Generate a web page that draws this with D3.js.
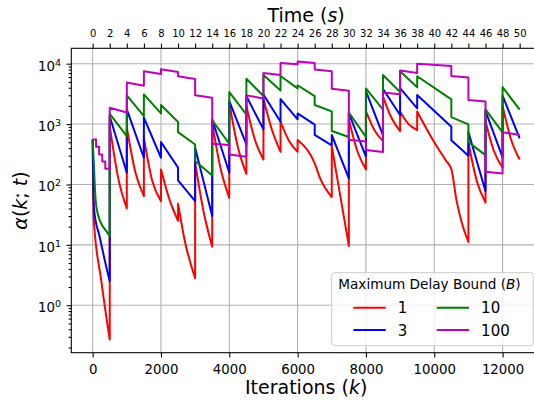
<!DOCTYPE html>
<html>
<head>
<meta charset="utf-8">
<script src="https://cdn.jsdelivr.net/npm/d3@7"></script>
<style>
  body { margin: 0; background: #fff; }
  text { font-family: "DejaVu Sans", sans-serif; fill: #000; }
</style>
</head>
<body>
<svg id="CHART" width="534" height="400"></svg>
<script>
// values: [iteration k, alpha]
var alphaB1 = [
  [0,557],[25,30],[250,2.6],[500,0.27],
  [500,927],[750,126],[1000,40],
  [1000,880],[1250,160],[1500,64],
  [1500,593],[1750,112],[2000,53],
  [2000,177],[2250,56],[2500,25],
  [2500,48],[2700,11.5],[3000,2.8],
  [3000,229],[3250,35],[3500,9.3],
  [3500,1040],[3750,178],[4000,60],
  [4000,2260],[4250,417],[4500,150],
  [4500,1990],[4750,550],[5000,259],
  [5000,2600],[5250,800],[5500,348],
  [5500,1094],[5750,525],[6000,348],
  [6000,546],[6500,223],[6650,130],[7000,62],
  [7000,431],[7500,9.6],
  [7500,1194],[7750,355],[8000,177],
  [8000,1640],[8250,794],[8500,523],
  [8500,2860],[8750,1260],[9000,764],
  [9000,1600],[9250,1000],[9500,795],
  [9500,1620],[10000,500],[10350,245],[10500,180],[10650,55],[10800,24],[11000,11.2],
  [11000,491],[11250,112],[11500,50],
  [11500,1120],[11750,355],[12000,189],
  [12000,1990],[12250,550],[12500,259]
];

var alphaB3 = [
  [0,557],[20,80],[50,35],[200,14],[350,5.7],[500,2.5],
  [500,1350],[1000,156],
  [1000,1750],[1500,277],
  [1500,1274],[2000,277],
  [2000,504],[2500,190],
  [2500,117],[3000,53],
  [3000,405],[3500,30],
  [3500,1194],[4000,156],
  [4000,2400],[4500,460],
  [4500,2910],[5000,817],
  [5000,3100],[5500,1094],
  [5500,2600],[6000,1200],
  [6000,1500],[6500,980],
  [6500,660],[7000,445],
  [7000,660],[7500,126],
  [7500,1500],[8000,290],
  [8000,3500],[8500,650],
  [8500,3800],[9000,1410],
  [9000,3930],[9500,1820],
  [9500,3040],[10500,900],
  [10500,541],[11000,300],
  [11000,740],[11500,77],
  [11500,1650],[12000,280],
  [12000,2950],[12500,578]
];

var alphaB10 = [
  [0,557],[30,250],[90,53],[167,30],[265,21.7],[363,18],[500,14],
  [500,1480],[1000,630],
  [1000,2990],[1500,1360],
  [1500,3100],[2000,1500],
  [2000,2070],[2500,1080],
  [2500,736],[3000,460],
  [3000,244],[3500,141],
  [3500,1150],[4000,472],
  [4000,3390],[4500,1445],
  [4500,5640],[5000,2910],
  [5000,6490],[5500,3600],
  [5500,6250],[6000,3900],
  [6000,4400],[6500,2900],
  [6500,2070],[7000,1620],
  [7000,770],[7500,610],
  [7500,1550],[8000,615],
  [8000,3900],[8500,1730],
  [8500,6500],[9000,3400],
  [9000,7500],[9500,4080],
  [9500,6200],[10500,2570],
  [10500,1306],[11000,986],
  [11000,503],[11500,306],
  [11500,1750],[12000,730],
  [12000,4100],[12500,1730]
];

var alphaB100 = [
  [0,557],[100,557],[100,421],[190,421],[190,314],[280,314],[280,240],[370,240],[370,182],[500,182],
  [500,1860],[1000,1560],
  [1000,4900],[1500,4300],
  [1500,7500],[2000,6750],
  [2000,8100],[2500,7300],
  [2500,6200],[3000,5600],
  [3000,2990],[3500,2730],
  [3500,472],[4000,449],
  [4000,314],[4500,288],
  [4500,2990],[5000,2660],
  [5000,7000],[5500,6500],
  [5500,10300],[6000,9800],
  [6000,10900],[6500,10250],
  [6500,8000],[7000,7500],
  [7000,3850],[7500,3550],
  [7500,550],[8000,515],
  [8000,371],[8500,345],
  [8500,3330],[9000,3130],
  [9000,7700],[9500,7000],
  [9500,10000],[10500,9200],
  [10500,6250],[11000,5900],
  [11000,2500],[11500,2370],
  [11500,162],[12000,152],
  [12000,736],[12500,660]
];

var delayBounds = ["1", "3", "10", "100"];
var seriesData = [alphaB1, alphaB3, alphaB10, alphaB100];
var colors = ["#ff0000", "#0000ff", "#008000", "#bf00bf"];

var iterTicks = [0, 2000, 4000, 6000, 8000, 10000, 12000];
var timeTicks = [0,2,4,6,8,10,12,14,16,18,20,22,24,26,28,30,32,34,36,38,40,42,44,46,48,50];
var decadeTicks = [1, 10, 100, 1000, 10000];
var itersPerSecond = 250;

// plot box
var LEFT = 71.3, RIGHT = 541, TOP = 48.3, BOTTOM = 352.7;

var x = d3.scaleLinear()
  .domain([-625, 13125])
  .range([LEFT, RIGHT]);

var xTime = d3.scaleLinear()
  .domain([-625 / itersPerSecond, 13125 / itersPerSecond])
  .range([LEFT, RIGHT]);

var y = d3.scaleLog()
  .domain([Math.pow(10, -0.786), Math.pow(10, 4.255)])
  .range([BOTTOM, TOP]);

var svg = d3.select("#CHART");

svg.append("defs").append("clipPath")
  .attr("id", "plotClip")
  .append("rect")
  .attr("x", LEFT).attr("y", TOP)
  .attr("width", RIGHT - LEFT).attr("height", BOTTOM - TOP);

// grid
var grid = svg.append("g").attr("stroke", "#b0b0b0").attr("stroke-width", 1.07);
grid.selectAll(".vg")
  .data(iterTicks)
  .enter().append("line")
  .attr("x1", function(d) { return x(d); })
  .attr("x2", function(d) { return x(d); })
  .attr("y1", TOP).attr("y2", BOTTOM);
grid.selectAll(".hg")
  .data(decadeTicks)
  .enter().append("line")
  .attr("y1", function(d) { return y(d); })
  .attr("y2", function(d) { return y(d); })
  .attr("x1", LEFT).attr("x2", RIGHT);

// draw lines: smooth decay between resets, straight jumps at resets
var line = d3.line()
  .x(function(d) { return x(d[0]); })
  .y(function(d) { return y(d[1]); })
  .curve(d3.curveMonotoneX);

function splitRuns(pts) {
  var out = [], cur = [pts[0]];
  for (var i = 1; i < pts.length; i++) {
    if (pts[i][0] === pts[i - 1][0]) { out.push(cur); cur = [pts[i]]; }
    else cur.push(pts[i]);
  }
  out.push(cur);
  return out;
}

function seriesPath(pts) {
  return splitRuns(pts).map(function(run, i) {
    var s = line(run);
    return i ? "L" + s.slice(1) : s;
  }).join("");
}

svg.append("g")
  .attr("clip-path", "url(#plotClip)")
  .selectAll("path")
  .data(seriesData)
  .enter().append("path")
  .attr("d", function(d) { return seriesPath(d); })
  .attr("fill", "none")
  .attr("stroke", function(d, i) { return colors[i]; })
  .attr("stroke-width", 2)
  .attr("stroke-linejoin", "round");

// bottom axis
var xAxis = d3.axisBottom(x)
  .tickValues(iterTicks)
  .tickFormat(d3.format("d"))
  .tickSize(4.7)
  .tickPadding(6.9)
  .tickSizeOuter(0);
var gx = svg.append("g")
  .attr("transform", "translate(0," + BOTTOM + ")")
  .call(xAxis);
gx.selectAll("text").style("font-size", "13.3px").style("font-family", "DejaVu Sans");

// top axis in seconds
var tAxis = d3.axisTop(xTime)
  .tickValues(timeTicks)
  .tickFormat(d3.format("d"))
  .tickSize(4.7)
  .tickPadding(6.9)
  .tickSizeOuter(0);
var gt = svg.append("g")
  .attr("transform", "translate(0," + TOP + ")")
  .call(tAxis);
gt.selectAll("text").style("font-size", "10px").style("font-family", "DejaVu Sans");

// left axis, minor ticks then decades
var minorTicks = y.ticks().filter(function(d) {
  return Math.abs(Math.log10(d) - Math.round(Math.log10(d))) > 1e-6;
});
svg.append("g")
  .attr("transform", "translate(" + LEFT + ",0)")
  .call(d3.axisLeft(y).tickValues(minorTicks).tickSize(2.7).tickFormat("").tickSizeOuter(0));

var gy = svg.append("g")
  .attr("transform", "translate(" + LEFT + ",0)")
  .call(d3.axisLeft(y).tickValues(decadeTicks).tickSize(4.7).tickPadding(5.6).tickSizeOuter(0));
gy.selectAll("text")
  .text(null)
  .attr("dy", null)
  .attr("y", 6.3)
  .style("font-size", "13.3px")
  .style("font-family", "DejaVu Sans")
  .each(function(d) {
    var t = d3.select(this);
    t.append("tspan").text("10");
    t.append("tspan")
      .attr("dy", -5)
      .style("font-size", "9.5px")
      .text(Math.round(Math.log10(d)));
  });

svg.selectAll(".domain").remove();
svg.selectAll(".tick line").attr("stroke", "#000").attr("stroke-width", 1.07);

// spines
svg.append("rect")
  .attr("x", LEFT).attr("y", TOP)
  .attr("width", RIGHT - LEFT).attr("height", BOTTOM - TOP)
  .attr("fill", "none")
  .attr("stroke", "#000")
  .attr("stroke-width", 1.07);

// axis titles
var topTitle = svg.append("text")
  .attr("x", (LEFT + RIGHT) / 2).attr("y", 22.4)
  .attr("text-anchor", "middle")
  .style("font-size", "19px");
topTitle.append("tspan").text("Time (");
topTitle.append("tspan").style("font-style", "italic").text("s");
topTitle.append("tspan").text(")");

var bottomTitle = svg.append("text")
  .attr("x", (LEFT + RIGHT) / 2).attr("y", 394)
  .attr("text-anchor", "middle")
  .style("font-size", "19px");
bottomTitle.append("tspan").text("Iterations (");
bottomTitle.append("tspan").style("font-style", "italic").text("k");
bottomTitle.append("tspan").text(")");

var yTitle = svg.append("text")
  .attr("transform", "translate(27," + ((TOP + BOTTOM) / 2) + ") rotate(-90)")
  .attr("text-anchor", "middle")
  .style("font-size", "19px");
yTitle.append("tspan").style("font-style", "italic").text("α");
yTitle.append("tspan").text("(");
yTitle.append("tspan").style("font-style", "italic").text("k");
yTitle.append("tspan").text("; ");
yTitle.append("tspan").style("font-style", "italic").text("t");
yTitle.append("tspan").text(")");

// legend
var legend = svg.append("g");
legend.append("rect")
  .attr("x", 331.7).attr("y", 272.7)
  .attr("width", 201.6).attr("height", 73)
  .attr("rx", 3)
  .attr("fill", "#fff").attr("fill-opacity", 0.8)
  .attr("stroke", "#cccccc").attr("stroke-width", 1);

var legTitle = legend.append("text")
  .attr("x", 338.3).attr("y", 289.3)
  .style("font-size", "13.6px");
legTitle.append("tspan").text("Maximum Delay Bound (");
legTitle.append("tspan").style("font-style", "italic").text("B");
legTitle.append("tspan").text(")");

var colX = [353.3, 436.7];
var rowY = [307.7, 330];
var items = legend.selectAll(".item")
  .data(delayBounds)
  .enter().append("g")
  .attr("transform", function(d, i) {
    return "translate(" + colX[Math.floor(i / 2)] + "," + rowY[i % 2] + ")";
  });
items.append("line")
  .attr("x1", 0).attr("x2", 32.4)
  .attr("y1", 0).attr("y2", 0)
  .attr("stroke", function(d, i) { return colors[i]; })
  .attr("stroke-width", 2);
items.append("text")
  .attr("x", 44.4).attr("y", 5.6)
  .style("font-size", "15px")
  .text(function(d) { return d; });
</script>
</body>
</html>
